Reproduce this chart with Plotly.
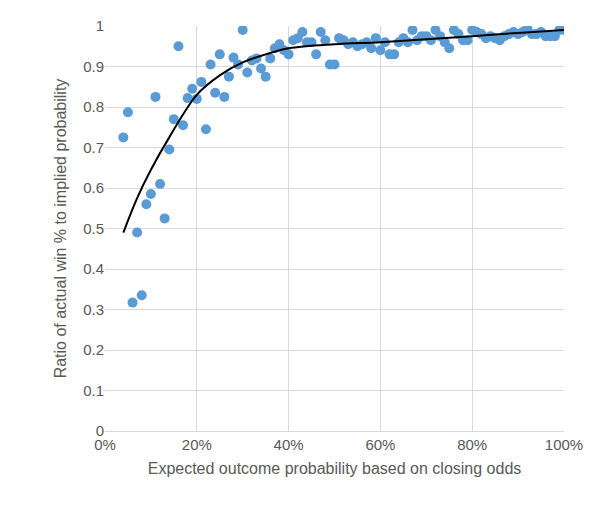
import plotly.graph_objects as go

x_pct = list(range(4, 101))
ratio = [0.725,0.787,0.317,0.49,0.335,0.56,0.585,0.825,0.61,0.525,0.695,0.77,0.95,0.755,0.822,0.845,0.82,0.862,0.745,0.905,
         0.835,0.93,0.825,0.875,0.922,0.905,0.99,0.885,0.915,0.92,0.895,0.875,0.92,0.945,0.955,0.94,0.93,0.965,0.97,0.985,
         0.96,0.96,0.93,0.985,0.965,0.905,0.905,0.97,0.965,0.955,0.96,0.95,0.955,0.96,0.945,0.97,0.94,0.96,0.93,0.93,
         0.96,0.97,0.96,0.99,0.965,0.975,0.975,0.965,0.99,0.975,0.96,0.945,0.99,0.98,0.965,0.965,0.99,0.985,0.98,0.97,
         0.975,0.97,0.965,0.975,0.98,0.985,0.98,0.985,0.995,0.98,0.98,0.985,0.975,0.975,0.975,0.99,0.99]
trend_x = [4, 7, 10, 14, 20, 25, 30, 35, 40, 50, 60, 70, 80, 90, 100]
trend_y = [0.49, 0.575, 0.645, 0.725, 0.83, 0.878, 0.91, 0.93, 0.945, 0.955, 0.96, 0.967, 0.975, 0.983, 0.99]
y_ticks = [0, 0.1, 0.2, 0.3, 0.4, 0.5, 0.6, 0.7, 0.8, 0.9, 1]
y_tick_labels = ["0", "0.1", "0.2", "0.3", "0.4", "0.5", "0.6", "0.7", "0.8", "0.9", "1"]

x = [v / 100 for v in x_pct]
tx = [v / 100 for v in trend_x]

fig = go.Figure()
fig.add_trace(go.Scatter(x=x, y=ratio, mode="markers",
                         marker=dict(color="#5b9bd5", size=10), showlegend=False))
fig.add_trace(go.Scatter(x=tx, y=trend_y, mode="lines", line=dict(color="black", width=2, shape="spline"),
                         showlegend=False))

font_col = "#595959"
fig.update_layout(
    width=600, height=508, paper_bgcolor="white", plot_bgcolor="white",
    margin=dict(l=97, r=44, t=18, b=85, autoexpand=False),
    font=dict(family="Liberation Sans, Arial", color=font_col, size=15),
    xaxis=dict(range=[0, 1], tickvals=[0, 0.2, 0.4, 0.6, 0.8, 1.0], tickformat=".0%",
               showgrid=True, gridcolor="#d9d9d9", zeroline=False, showline=True, linecolor="#d9d9d9",
               title=dict(text="Expected outcome probability based on closing odds", font=dict(size=16), standoff=10),
               tickfont=dict(size=15), automargin=False),
    yaxis=dict(range=[0, 1], tickvals=y_ticks, ticktext=y_tick_labels, showgrid=True, gridcolor="#d9d9d9",
               zeroline=False, showline=False, automargin=False,
               title=dict(text="Ratio of actual win % to implied probability", font=dict(size=16), standoff=12),
               tickfont=dict(size=15)),
)
fig.write_html("out.html")
